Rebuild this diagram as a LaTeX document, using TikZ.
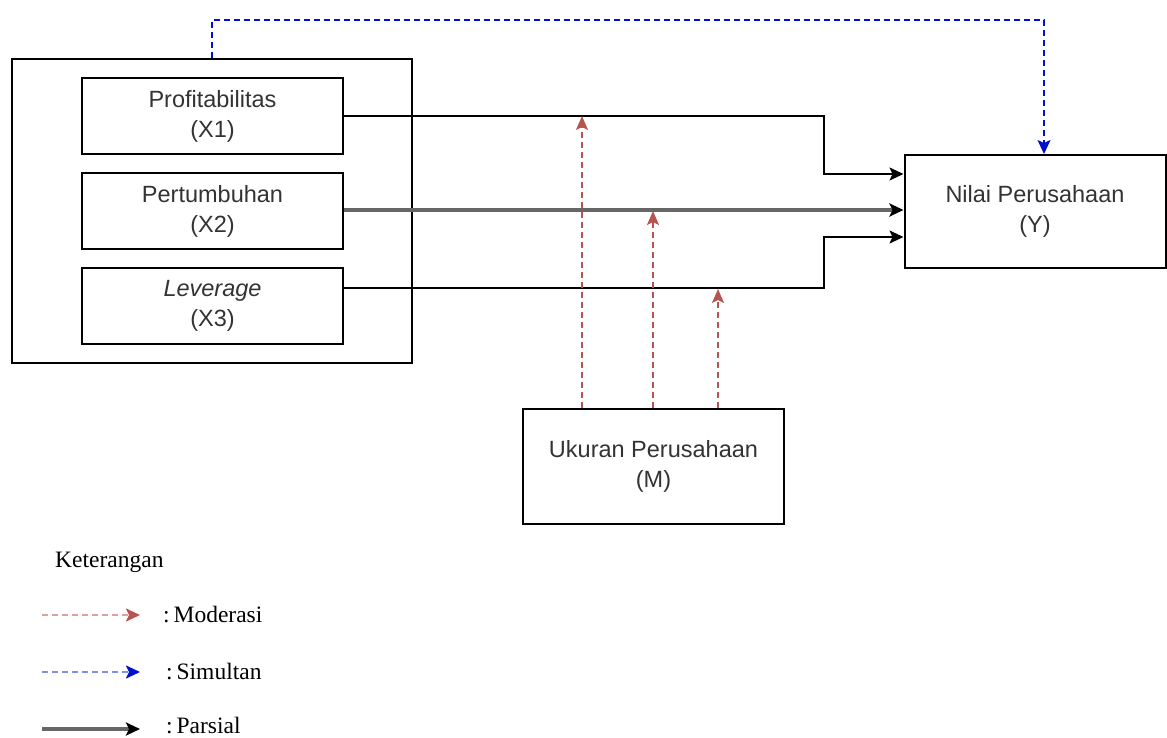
\documentclass[tikz,border=0pt]{standalone}
\usepackage{fontspec}
\setmainfont{Liberation Serif}
\newfontfamily\arialf{Liberation Sans}
\usetikzlibrary{arrows.meta}
\definecolor{modred}{HTML}{B85450}
\definecolor{modlight}{HTML}{E0A0A0}
\definecolor{simblue}{HTML}{0010CC}
\definecolor{simlight}{HTML}{8090E8}
\definecolor{txtgray}{HTML}{333333}
\definecolor{linegray}{HTML}{666666}
\tikzset{
  box/.style={draw=black, line width=2pt, inner sep=0pt, align=center,
    font=\arialf\fontsize{23.5}{30}\selectfont, text=txtgray},
  tip/.style={-{Stealth[length=14pt,width=13pt,inset=3pt]}},
  parsial/.style={tip, draw=black, line width=1.8pt},
  parsialgray/.style={-{Stealth[length=14pt,width=13pt,inset=3pt,color=black]}, draw=linegray, line width=3.2pt},
  moder/.style={-{Stealth[length=14pt,width=12pt,inset=3pt]}, draw=modred, line width=1.7pt, dash pattern=on 6pt off 4pt},
  simul/.style={-{Stealth[length=14pt,width=13pt,inset=3pt]}, draw=simblue, line width=1.7pt, dash pattern=on 6pt off 4pt},
  legtxt/.style={font=\fontsize{23.5}{26}\selectfont, anchor=west, inner sep=0pt, text=black}
}
\begin{document}
\begin{tikzpicture}[x=1pt,y=-1pt]
\useasboundingbox (0,0) rectangle (1167,738);
% boxes
\node[box, minimum width=400pt, minimum height=304pt] (outer) at (212,211) {};
\node[box, minimum width=261pt, minimum height=76pt] (X1) at (212.5,116) {Profitabilitas\\(X1)};
\node[box, minimum width=261pt, minimum height=76pt] (X2) at (212.5,211) {Pertumbuhan\\(X2)};
\node[box, minimum width=261pt, minimum height=76pt] (X3) at (212.5,306) {\itshape Leverage\\(X3)};
\node[box, minimum width=261pt, minimum height=113pt] (Y) at (1035,211.5) {Nilai Perusahaan\\(Y)};
\node[box, minimum width=261pt, minimum height=115pt] (M) at (653.5,466.5) {Ukuran Perusahaan\\(M)};
% parsial connectors
\draw[parsial] (X1.east) -- (824,116) -- (824,174) -- (Y.west |- 0,174);
\draw[parsialgray] (X2.east |- 0,210) -- (Y.west |- 0,210);
\draw[parsial] (X3.east |- 0,288) -- (824,288) -- (824,237) -- (Y.west |- 0,237);
% moderation
\coordinate (m1) at (582,116);
\coordinate (m2) at (653,211);
\coordinate (m3) at (718,289);
\draw[moder] (M.north -| m1) -- (m1);
\draw[moder] (M.north -| m2) -- (m2);
\draw[moder] (M.north -| m3) -- (m3);
% simultan
\draw[simul] (outer.north) -- (212,20) -- (1044,20) -- (Y.north -| 1044,0);
% legend
\node[legtxt] (ket) at (55,562) {Keterangan};
\coordinate (l1a) at (42,615); \coordinate (l1b) at (140,615);
\coordinate (l2a) at (42,672); \coordinate (l2b) at (140,672);
\coordinate (l3a) at (42,729); \coordinate (l3b) at (140,729);
\draw[draw=modlight, line width=2.2pt, dash pattern=on 6pt off 4pt, -{Stealth[length=14pt,width=13pt,inset=3pt,color=modred]}] (l1a) -- (l1b);
\draw[draw=simlight, line width=2.2pt, dash pattern=on 6pt off 4pt, -{Stealth[length=14pt,width=13pt,inset=3pt,color=simblue]}] (l2a) -- (l2b);
\draw[draw=linegray, line width=3.2pt, -{Stealth[length=14pt,width=13pt,inset=3pt,color=black]}] (l3a) -- (l3b);
\node[legtxt] (lm) at (163,615) {:\,Moderasi};
\node[legtxt] (ls) at (166,672) {:\,Simultan};
\node[legtxt] (lp) at (166,726) {:\,Parsial};
\end{tikzpicture}
\end{document}
